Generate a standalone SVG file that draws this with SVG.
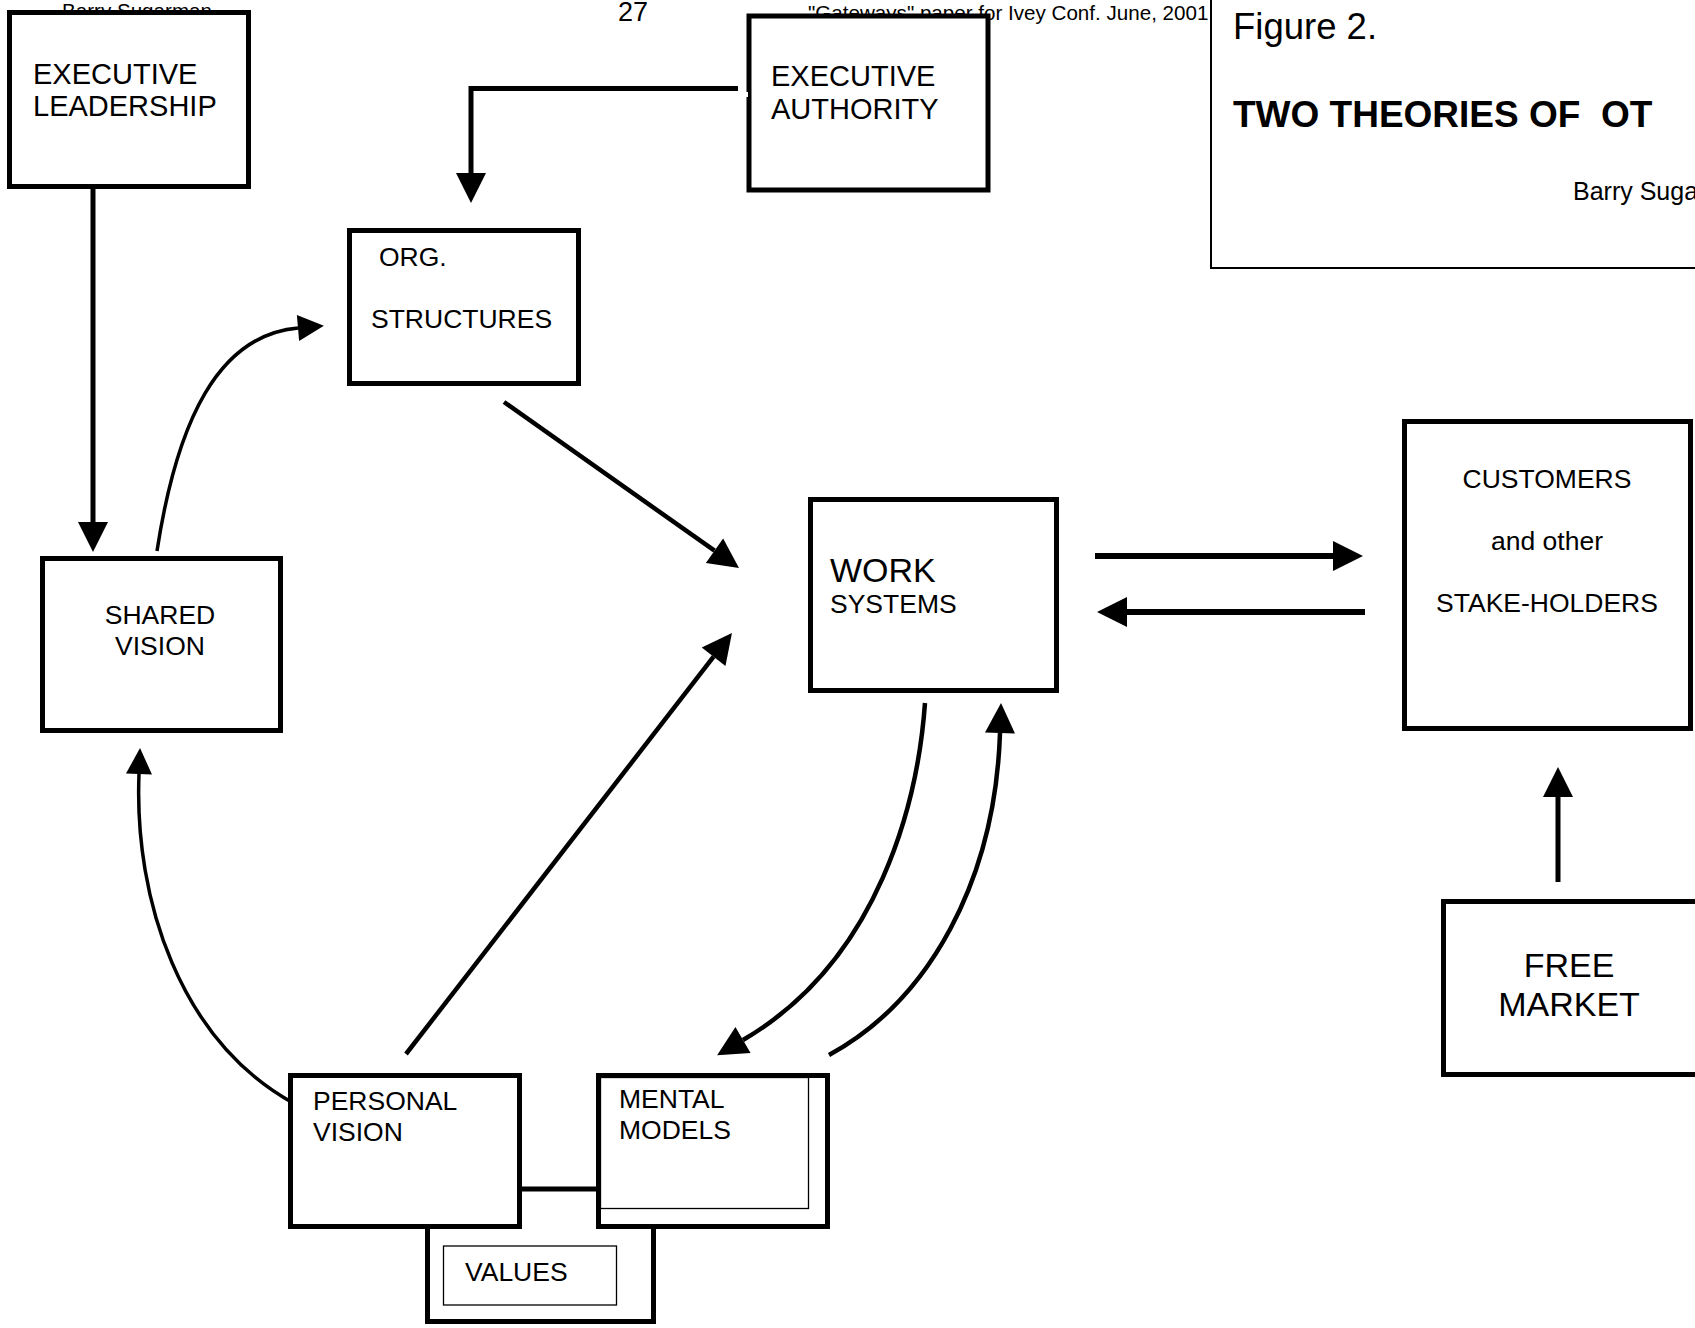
<svg xmlns="http://www.w3.org/2000/svg" width="1695" height="1328" viewBox="0 0 1695 1328">
  <style>
    text { font-family: "Liberation Sans", Arial, sans-serif; fill: #000; }
    .box { fill: #fff; stroke: #000; stroke-width: 5; stroke-linejoin: miter; }
    .thin { fill: #fff; stroke: #000; stroke-width: 1.3; }
    .lbl { font-size: 26.5px; }
    .big { font-size: 34px; }
    .exec { font-size: 29px; }
    .hdr { font-size: 20.6px; }
    .mid { text-anchor: middle; }
    .ln { fill: none; stroke: #000; stroke-width: 5; }
    .ln6 { fill: none; stroke: #000; stroke-width: 6; }
    .ln45 { fill: none; stroke: #000; stroke-width: 4.5; }
    .cv { fill: none; stroke: #000; stroke-width: 3.5; }
    .cv4 { fill: none; stroke: #000; stroke-width: 4.5; }
  </style>
  <defs>
    <!-- arrowheads: the path ends at the base of the head -->
    <marker id="head" markerUnits="userSpaceOnUse" markerWidth="31" markerHeight="31" refX="0" refY="15" orient="auto" overflow="visible">
      <path d="M0,0 L30,15 L0,30 Z" fill="#000"/>
    </marker>
    <marker id="headS" markerUnits="userSpaceOnUse" markerWidth="27" markerHeight="27" refX="0" refY="13" orient="auto" overflow="visible">
      <path d="M0,0 L26,13 L0,26 Z" fill="#000"/>
    </marker>
  </defs>

  <rect width="1695" height="1328" fill="#fff"/>

  <!-- page header (partly hidden under the boxes) -->
  <g id="page-header">
    <text class="hdr" x="62" y="18">Barry Sugarman</text>
    <text x="618" y="21" font-size="27">27</text>
    <text class="hdr" x="808" y="20">"Gateways" paper for Ivey Conf.  June, 2001</text>
  </g>

  <!-- title block -->
  <g id="title">
    <rect x="1211" y="-10" width="600" height="278" fill="#fff" stroke="#000" stroke-width="2"/>
    <text x="1233" y="39" font-size="36.5">Figure 2.</text>
    <text x="1233" y="127" font-size="37" font-weight="bold" xml:space="preserve" style="white-space:pre">TWO THEORIES OF  OT</text>
    <text x="1573" y="200" font-size="25">Barry Sugarman</text>
  </g>

  <!-- links between the boxes -->
  <g id="connectors">
    <line class="ln" x1="93" y1="188" x2="93" y2="522" marker-end="url(#head)"/>
    <path class="ln" d="M738,88.5 H471 V173" marker-end="url(#head)"/>
    <path class="cv" d="M157,551 C177,421 218,335 298,328" marker-end="url(#headS)"/>
    <line class="ln45" x1="504" y1="402" x2="714.5" y2="550.7" marker-end="url(#head)"/>
    <line class="ln45" x1="406" y1="1054" x2="713.6" y2="656.7" marker-end="url(#head)"/>
    <line class="ln6" x1="1095" y1="556" x2="1333" y2="556" marker-end="url(#head)"/>
    <line class="ln6" x1="1365" y1="612" x2="1127" y2="612" marker-end="url(#head)"/>
    <line class="ln" x1="1558" y1="882" x2="1558" y2="797" marker-end="url(#head)"/>
    <path class="cv4" d="M925,703 C918,800 880,960 743,1040" marker-end="url(#head)"/>
    <path class="cv4" d="M829,1055 C930,1000 995,880 1000,733" marker-end="url(#head)"/>
    <path class="cv" d="M293,1103 C180,1040 134,900 139,774" marker-end="url(#headS)"/>
  </g>

  <g id="executive-leadership">
    <rect class="box" x="9.5" y="12.5" width="239" height="174"/>
    <text class="exec" x="33" y="84">EXECUTIVE</text>
    <text class="exec" x="33" y="116">LEADERSHIP</text>
  </g>

  <g id="executive-authority">
    <rect class="box" x="749" y="16" width="239" height="174"/>
    <rect x="743" y="92" width="5" height="5" fill="#fff"/>
    <text class="exec" x="771" y="86">EXECUTIVE</text>
    <text class="exec" x="771" y="119">AUTHORITY</text>
  </g>

  <g id="org-structures">
    <rect class="box" x="349.5" y="230.5" width="229" height="153"/>
    <text class="lbl" x="379" y="266">ORG.</text>
    <text class="lbl" x="371" y="328">STRUCTURES</text>
  </g>

  <g id="shared-vision">
    <rect class="box" x="42.5" y="558.5" width="238" height="172"/>
    <text class="lbl mid" x="160" y="624">SHARED</text>
    <text class="lbl mid" x="160" y="655">VISION</text>
  </g>

  <g id="work-systems">
    <rect class="box" x="810.5" y="499.5" width="246" height="191"/>
    <text class="big" x="830" y="582">WORK</text>
    <text class="lbl" x="830" y="613">SYSTEMS</text>
  </g>

  <g id="customers">
    <rect class="box" x="1404.5" y="421.5" width="286" height="307"/>
    <text class="lbl mid" x="1547" y="488">CUSTOMERS</text>
    <text class="lbl mid" x="1547" y="550">and other</text>
    <text class="lbl mid" x="1547" y="612">STAKE-HOLDERS</text>
  </g>

  <g id="free-market">
    <rect class="box" x="1443.5" y="901.5" width="300" height="173"/>
    <text class="big mid" x="1569" y="977">FREE</text>
    <text class="big mid" x="1569" y="1016">MARKET</text>
  </g>

  <!-- values sits behind the two boxes above it; its top edge shows between them -->
  <g id="values">
    <rect class="box" x="427.5" y="1189" width="226" height="132.5"/>
    <rect class="thin" x="443.5" y="1246" width="173" height="59"/>
    <text class="lbl" x="465" y="1281">VALUES</text>
  </g>

  <g id="personal-vision">
    <rect class="box" x="290.5" y="1075.5" width="229" height="151"/>
    <text class="lbl" x="313" y="1110">PERSONAL</text>
    <text class="lbl" x="313" y="1141">VISION</text>
  </g>

  <g id="mental-models">
    <rect class="box" x="598.5" y="1075.5" width="229" height="151"/>
    <rect class="thin" x="600.5" y="1077.5" width="208" height="131"/>
    <text class="lbl" x="619" y="1108">MENTAL</text>
    <text class="lbl" x="619" y="1139">MODELS</text>
  </g>
</svg>
